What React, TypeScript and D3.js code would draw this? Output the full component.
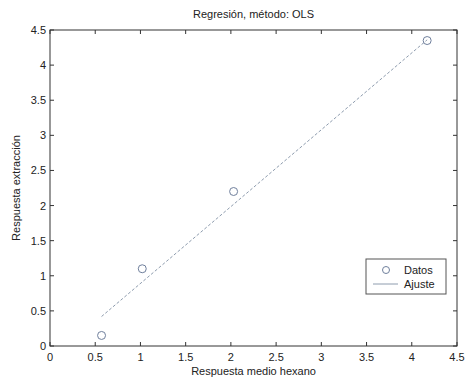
import { useEffect, useRef } from "react";
import * as d3 from "d3";

// datos
const datosX = [0.57, 1.02, 2.03, 4.17];
const datosY = [0.15, 1.1, 2.2, 4.35];
const ajusteX = [0.57, 4.17];
const ajusteY = [0.42, 4.36];
const ticks = [0, 0.5, 1, 1.5, 2, 2.5, 3, 3.5, 4, 4.5];

const App = () => {
  const svgRef = useRef<SVGSVGElement | null>(null);

  useEffect(() => {
    const svg = d3.select(svgRef.current);
    svg.selectAll("*").remove();

    const width = 466;
    const height = 385;
    const m = { left: 50, right: 9, top: 30, bottom: 39 };
    const font = "Liberation Sans, Arial, sans-serif";

    const x = d3.scaleLinear().domain([0, 4.5]).range([m.left, width - m.right]);
    const y = d3.scaleLinear().domain([0, 4.5]).range([height - m.bottom, m.top]);

    svg.append("rect").attr("width", width).attr("height", height).attr("fill", "#fff");

    // caja
    svg.append("rect")
      .attr("x", x(0)).attr("y", y(4.5))
      .attr("width", x(4.5) - x(0)).attr("height", y(0) - y(4.5))
      .attr("fill", "none").attr("stroke", "#333").attr("stroke-width", 1);

    const tl = 4;
    const g = svg.append("g").attr("stroke", "#333").attr("stroke-width", 1);
    ticks.forEach(t => {
      g.append("line").attr("x1", x(t)).attr("x2", x(t)).attr("y1", y(0)).attr("y2", y(0) - tl);
      g.append("line").attr("x1", x(t)).attr("x2", x(t)).attr("y1", y(4.5)).attr("y2", y(4.5) + tl);
      g.append("line").attr("y1", y(t)).attr("y2", y(t)).attr("x1", x(0)).attr("x2", x(0) + tl);
      g.append("line").attr("y1", y(t)).attr("y2", y(t)).attr("x1", x(4.5)).attr("x2", x(4.5) - tl);
    });

    svg.selectAll(".xl").data(ticks).enter().append("text")
      .attr("x", d => x(d)).attr("y", y(0) + 15)
      .attr("text-anchor", "middle").attr("font-family", font).attr("font-size", 11)
      .attr("fill", "#222").text(d => String(d));

    svg.selectAll(".yl").data(ticks).enter().append("text")
      .attr("x", x(0) - 4).attr("y", d => y(d) + 4)
      .attr("text-anchor", "end").attr("font-family", font).attr("font-size", 11)
      .attr("fill", "#222").text(d => String(d));

    // linea de ajuste
    const line = d3.line<number>().x(d => x(ajusteX[d])).y(d => y(ajusteY[d]));
    svg.append("path")
      .attr("d", line([0, 1]))
      .attr("fill", "none").attr("stroke", "#8e9cae").attr("stroke-width", 1)
      .attr("stroke-dasharray", "3,2");

    // datos
    svg.selectAll(".pt").data(datosX).enter().append("circle")
      .attr("cx", d => x(d)).attr("cy", (_, i) => y(datosY[i]))
      .attr("r", 4).attr("fill", "none").attr("stroke", "#6f7f9c").attr("stroke-width", 1);

    // titulos
    svg.append("text").attr("x", (x(0) + x(4.5)) / 2).attr("y", 18)
      .attr("text-anchor", "middle").attr("font-family", font).attr("font-size", 11)
      .attr("fill", "#222").text("Regresión, método: OLS");
    svg.append("text").attr("x", (x(0) + x(4.5)) / 2).attr("y", 375)
      .attr("text-anchor", "middle").attr("font-family", font).attr("font-size", 11)
      .attr("fill", "#222").text("Respuesta medio hexano");
    svg.append("text")
      .attr("transform", `translate(20,${(y(0) + y(4.5)) / 2}) rotate(-90)`)
      .attr("text-anchor", "middle").attr("font-family", font).attr("font-size", 11)
      .attr("fill", "#222").text("Respuesta extracción");

    // leyenda
    const lg = svg.append("g").attr("transform", "translate(366,259)");
    lg.append("rect").attr("width", 80).attr("height", 35)
      .attr("fill", "#fff").attr("stroke", "#555").attr("stroke-width", 1);
    lg.append("circle").attr("cx", 20).attr("cy", 11).attr("r", 3.5)
      .attr("fill", "none").attr("stroke", "#6f7f9c");
    lg.append("line").attr("x1", 7).attr("x2", 32).attr("y1", 25).attr("y2", 25)
      .attr("stroke", "#8e9cae").attr("stroke-width", 1);
    lg.append("text").attr("x", 38).attr("y", 15).attr("font-family", font).attr("font-size", 11)
      .attr("fill", "#222").text("Datos");
    lg.append("text").attr("x", 38).attr("y", 29).attr("font-family", font).attr("font-size", 11)
      .attr("fill", "#222").text("Ajuste");
  }, []);

  return (
    <div style={{ position: "absolute", left: 0, top: 0, width: 466, height: 385, overflow: "hidden" }}>
      <svg ref={svgRef} width={466} height={385} style={{ display: "block" }}></svg>
    </div>
  );
};

export default App;
